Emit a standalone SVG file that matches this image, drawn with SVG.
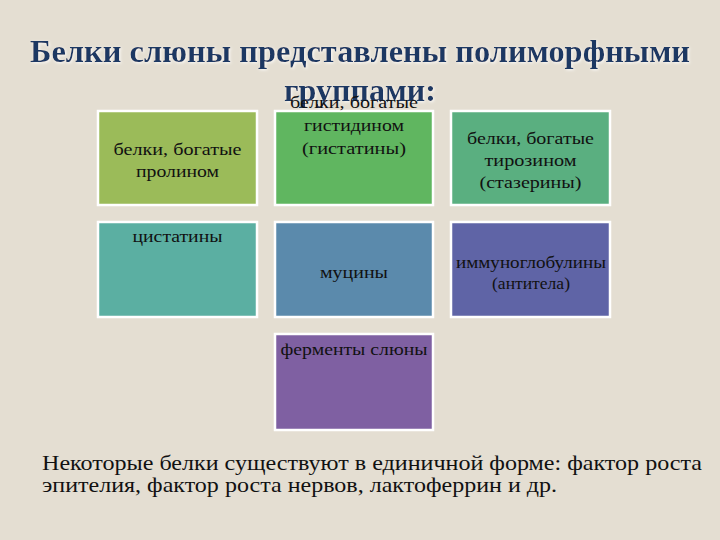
<svg xmlns="http://www.w3.org/2000/svg" width="720" height="540" viewBox="0 0 720 540">
<defs>
<filter id="sh" x="-5%" y="-20%" width="110%" height="140%">
<feGaussianBlur in="SourceAlpha" stdDeviation="1.5"/>
<feOffset dx="1" dy="1" result="b"/>
<feFlood flood-color="#ffffff" flood-opacity="0.9"/>
<feComposite in2="b" operator="in"/>
<feMerge><feMergeNode/><feMergeNode in="SourceGraphic"/></feMerge>
</filter>
</defs>
<style>
.box{stroke:#ffffff;stroke-width:2.5}
.t{font-family:"Liberation Serif","DejaVu Serif","Noto Serif",serif;font-size:17px;fill:#111111;text-anchor:middle}
.title{font-family:"Liberation Serif","DejaVu Serif","Noto Serif",serif;font-size:31px;font-weight:bold;fill:#1F3864;text-anchor:middle}
.body{font-family:"Liberation Serif","DejaVu Serif","Noto Serif",serif;font-size:21px;fill:#111111}
</style>
<rect width="720" height="540" fill="#E4DED2"/>
<g id="title" filter="url(#sh)">
<text class="title" x="360" y="62" textLength="660" lengthAdjust="spacingAndGlyphs">Белки слюны представлены полиморфными</text>
<text class="title" x="360" y="101" textLength="152" lengthAdjust="spacingAndGlyphs">группами:</text>
</g>
<g id="connectors"></g>
<g id="proline">
<rect class="box" x="98" y="111" width="159" height="94" fill="#9BBB59"/>
<text class="t" x="177.5" y="155" textLength="128" lengthAdjust="spacingAndGlyphs">белки, богатые</text>
<text class="t" x="177.5" y="177" textLength="83" lengthAdjust="spacingAndGlyphs">пролином</text>
</g>
<g id="histidine">
<rect class="box" x="275" y="111" width="158" height="94" fill="#60B660"/>
<text class="t" x="354" y="108" textLength="128" lengthAdjust="spacingAndGlyphs">белки, богатые</text>
<text class="t" x="354" y="131" textLength="100" lengthAdjust="spacingAndGlyphs">гистидином</text>
<text class="t" x="354" y="154" textLength="104" lengthAdjust="spacingAndGlyphs">(гистатины)</text>
</g>
<g id="tyrosine">
<rect class="box" x="451" y="111" width="159" height="94" fill="#5AAF80"/>
<text class="t" x="530.5" y="144" textLength="127" lengthAdjust="spacingAndGlyphs">белки, богатые</text>
<text class="t" x="530.5" y="166" textLength="92" lengthAdjust="spacingAndGlyphs">тирозином</text>
<text class="t" x="530.5" y="188" textLength="102" lengthAdjust="spacingAndGlyphs">(стазерины)</text>
</g>
<g id="cystatins">
<rect class="box" x="98" y="222" width="159" height="95" fill="#5BAFA2"/>
<text class="t" x="177.5" y="242" textLength="90" lengthAdjust="spacingAndGlyphs">цистатины</text>
</g>
<g id="mucins">
<rect class="box" x="275" y="222" width="158" height="95" fill="#5B8AAC"/>
<text class="t" x="354" y="278" textLength="68" lengthAdjust="spacingAndGlyphs">муцины</text>
</g>
<g id="immunoglobulins">
<rect class="box" x="451" y="222" width="159" height="95" fill="#5F64A6"/>
<text class="t" x="531" y="268" textLength="150" lengthAdjust="spacingAndGlyphs">иммуноглобулины</text>
<text class="t" x="531" y="289" textLength="78" lengthAdjust="spacingAndGlyphs">(антитела)</text>
</g>
<g id="enzymes">
<rect class="box" x="275" y="334" width="158" height="96" fill="#7F60A2"/>
<text class="t" x="354" y="355" textLength="147" lengthAdjust="spacingAndGlyphs">ферменты слюны</text>
</g>
<g id="note">
<text class="body" x="42" y="470" textLength="660" lengthAdjust="spacingAndGlyphs">Некоторые белки существуют в единичной форме: фактор роста</text>
<text class="body" x="42" y="492" textLength="515" lengthAdjust="spacingAndGlyphs">эпителия, фактор роста нервов, лактоферрин и др.</text>
</g>
</svg>
